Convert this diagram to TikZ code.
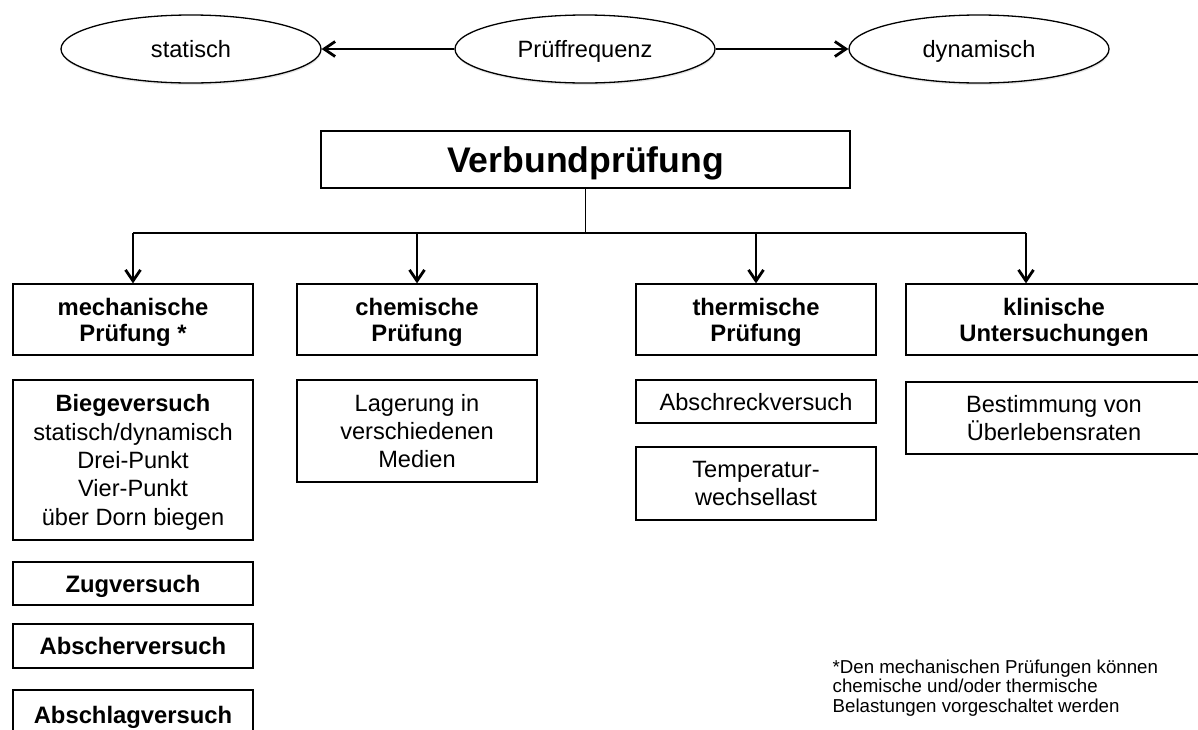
\documentclass[tikz,border=0pt]{standalone}
\usepackage{fontspec}
\setmainfont{Liberation Sans}
\usetikzlibrary{arrows.meta,shapes.geometric,shadows}
\begin{document}
\begin{tikzpicture}[x=1pt,y=-1pt,
  line width=1.3pt,
  oval/.style={draw, ellipse, fill=white, minimum width=260pt, minimum height=68pt, inner sep=0pt,
    text depth=0pt, font=\fontsize{23.6}{28}\selectfont,
    drop shadow={shadow xshift=0.5pt, shadow yshift=-2pt, opacity=0.2}},
  box/.style={draw, rectangle, fill=white, inner sep=0pt, align=center, text depth=0pt,
    font=\fontsize{23.6}{28.4}\selectfont},
  hbox/.style={box, font=\fontsize{23.8}{26}\selectfont\bfseries},
  arr/.style={-{Straight Barb[length=11pt,width=15pt,line width=2.8pt]}},
]
\useasboundingbox (0,0) rectangle (1198,729);
\clip (0,0) rectangle (1198,729);

% top ellipses
\node[oval] (stat) at (191,49) {statisch};
\node[oval] (prf)  at (585,49) {Prüffrequenz};
\node[oval] (dyn)  at (979,49) {dynamisch};
\draw[arr] (prf) -- (stat);
\draw[arr] (prf) -- (dyn);

% main box
\node[box, minimum width=529pt, minimum height=57pt, font=\fontsize{35.6}{40}\selectfont\bfseries]
  (verb) at (585.5,159.5) {Verbundprüfung};

% category boxes
\node[hbox, minimum width=240pt, minimum height=71pt] (mech)  at (133,319.5) {mechanische\\Prüfung *};
\node[hbox, minimum width=240pt, minimum height=71pt] (chem)  at (417,319.5) {chemische\\Prüfung};
\node[hbox, minimum width=240pt, minimum height=71pt] (therm) at (756,319.5) {thermische\\Prüfung};
\node[hbox, minimum width=296pt, minimum height=71pt] (klin)  at (1054,319.5) {klinische\\Untersuchungen};

% tree connectors
\coordinate (h1) at (133,233);
\coordinate (h2) at (417,233);
\coordinate (h3) at (756,233);
\coordinate (h4) at (1026,233);
\draw (verb.south) -- (verb.south |- h1);
\draw (h1) -- (h4);
\draw[arr] (h1) -- (mech.north);
\draw[arr] (h2) -- (chem.north);
\draw[arr] (h3) -- (therm.north);
\draw[arr] (h4) -- (h4 |- klin.north);

% mechanical tests
\node[box, minimum width=240pt, minimum height=160pt] (biege) at (133,460)
  {\textbf{Biegeversuch}\\statisch/dynamisch\\Drei-Punkt\\Vier-Punkt\\über Dorn biegen};
\node[hbox, minimum width=240pt, minimum height=43pt] (zug) at (133,583.5) {Zugversuch};
\node[hbox, minimum width=240pt, minimum height=44pt] (absch) at (133,646) {Abscherversuch};
\node[hbox, minimum width=240pt, minimum height=50pt] (abschl) at (133,715) {Abschlagversuch};

% chemical
\node[box, minimum width=240pt, minimum height=102pt] (lager) at (417,431)
  {Lagerung in\\verschiedenen\\Medien};

% thermal
\node[box, minimum width=240pt, minimum height=43pt] (abschr) at (756,401.5) {Abschreckversuch};
\node[box, minimum width=240pt, minimum height=73pt] (temp) at (756,483.5) {Temperatur-\\wechsellast};

% clinical
\node[box, minimum width=296pt, minimum height=72pt] (best) at (1054,418)
  {Bestimmung von\\Überlebensraten};

% footnote
\node[anchor=north west, inner sep=0pt, align=left, font=\fontsize{18.7}{19.6}\selectfont]
  (foot) at (832,659)
  {*Den mechanischen Prüfungen können\\chemische und/oder thermische\\Belastungen vorgeschaltet werden};
\end{tikzpicture}
\end{document}
